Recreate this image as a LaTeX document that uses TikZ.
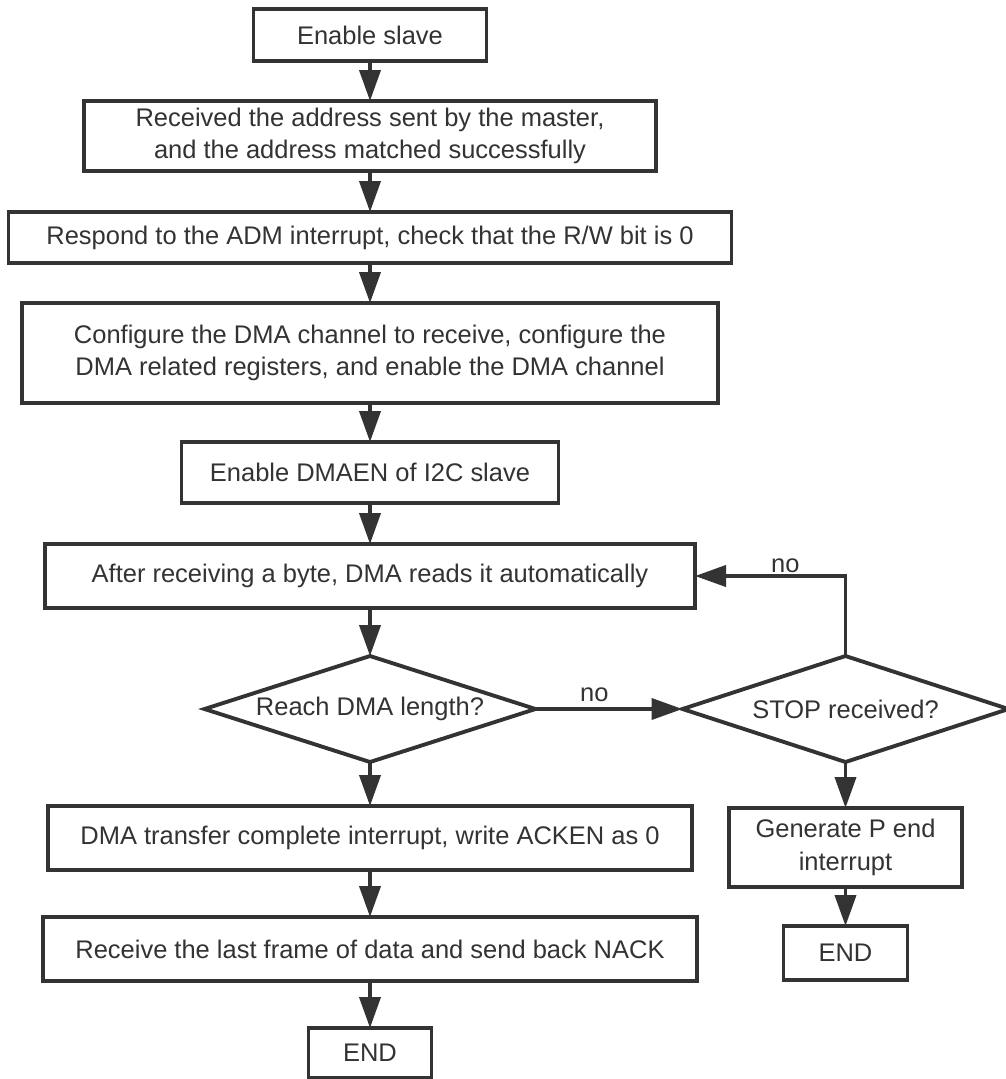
\documentclass[tikz,border=0pt]{standalone}
\usepackage{fontspec}
\setmainfont{Liberation Sans}
\usetikzlibrary{shapes.geometric,arrows.meta,positioning}
\definecolor{flowGray}{HTML}{333333}

\begin{document}
\begin{tikzpicture}[
  procbox/.style={rectangle,draw=flowGray,line width=2.2pt,fill=white,
    align=center,inner sep=0pt,outer sep=0pt,text=flowGray,
    font=\fontsize{14.5}{18.5}\selectfont},
  decbox/.style={diamond,draw=flowGray,line width=2.2pt,fill=white,
    align=center,aspect=3.1,inner sep=0pt,outer sep=0pt,text=flowGray,
    font=\fontsize{14.5}{18.5}\selectfont},
  arrow/.style={-{Triangle[length=0.62cm,width=0.42cm]},line width=2.2pt,
    draw=flowGray},
  nolbl/.style={text=flowGray,font=\fontsize{14.5}{18.5}\selectfont,
    inner sep=1pt}
]
\useasboundingbox (0,0) rectangle (20.12,-21.58);

% ── Coluna principal ─────────────────────────────────────────────────────────
\node[procbox,minimum width=4.66cm,minimum height=1.04cm]
  (N1) at (7.40,-0.70) {Enable slave};
\node[procbox,minimum width=11.44cm,minimum height=1.40cm,below=0.80cm of N1]
  (N2) {Received the address sent by the master,\\and the address matched successfully};
\node[procbox,minimum width=14.46cm,minimum height=1.02cm,below=0.82cm of N2]
  (N3) {Respond to the ADM interrupt, check that the R/W bit is 0};
\node[procbox,minimum width=13.92cm,minimum height=2.00cm,below=0.80cm of N3]
  (N4) {Configure the DMA channel to receive, configure the\\DMA related registers, and enable the DMA channel};
\node[procbox,minimum width=7.54cm,minimum height=1.22cm,below=0.78cm of N4]
  (N5) {Enable DMAEN of I2C slave};
\node[procbox,minimum width=13.00cm,minimum height=1.28cm,below=0.82cm of N5]
  (N6) {After receiving a byte, DMA reads it automatically};
\node[decbox,minimum width=6.62cm,minimum height=2.12cm,below=0.96cm of N6]
  (D1) {Reach DMA length?};
\node[procbox,minimum width=12.88cm,minimum height=1.28cm,below=0.88cm of D1]
  (N7) {DMA transfer complete interrupt, write ACKEN as 0};
\node[procbox,minimum width=13.08cm,minimum height=1.28cm,below=0.94cm of N7]
  (N8) {Receive the last frame of data and send back NACK};
\node[procbox,minimum width=2.46cm,minimum height=1.00cm,below=0.94cm of N8]
  (END1) {END};

% ── Ramo da direita ──────────────────────────────────────────────────────────
\node[decbox,minimum width=6.52cm,minimum height=2.12cm,right=2.94cm of D1]
  (D2) {STOP received?};
\node[procbox,minimum width=4.66cm,minimum height=1.58cm,below=0.92cm of D2]
  (N9) {Generate P end\\interrupt};
\node[procbox,minimum width=2.48cm,minimum height=1.08cm,below=0.78cm of N9]
  (END2) {END};

% ── Setas ────────────────────────────────────────────────────────────────────
\draw[arrow](N1)--(N2);
\draw[arrow](N2)--(N3);
\draw[arrow](N3)--(N4);
\draw[arrow](N4)--(N5);
\draw[arrow](N5)--(N6);
\draw[arrow](N6)--(D1);
\draw[arrow](D1)--(N7);
\draw[arrow](N7)--(N8);
\draw[arrow](N8)--(END1);
\draw[arrow](D1.east)--node[nolbl,above,pos=0.4,yshift=2pt]{no}(D2.west);
\draw[arrow](D2.north)|-node[nolbl,above,pos=0.7]{no}(N6.east);
\draw[arrow](D2)--(N9);
\draw[arrow](N9)--(END2);
\end{tikzpicture}
\end{document}
